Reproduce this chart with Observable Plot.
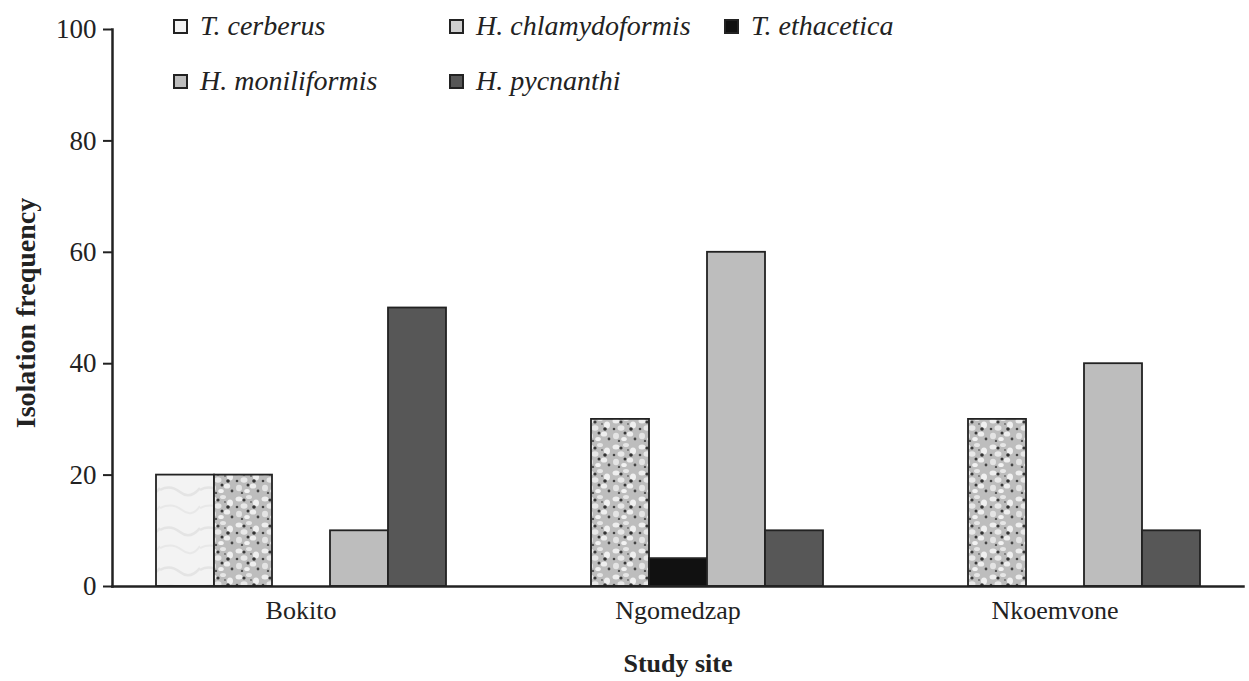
<!DOCTYPE html>
<html><head><meta charset="utf-8">
<script src="https://cdn.jsdelivr.net/npm/d3@7"></script>
<script src="https://cdn.jsdelivr.net/npm/@observablehq/plot@0.6"></script>
<style>
body{margin:0;background:#fff;font-family:"Liberation Serif","Times New Roman",serif;}
#wrap{position:relative;width:1249px;height:681px;}
#legend{position:absolute;left:0;top:0;width:1249px;height:110px;font-style:italic;font-size:28px;color:#222;pointer-events:none;}
.li{position:absolute;display:flex;align-items:center;white-space:nowrap;line-height:1;}
.sw{width:15px;height:15px;border:2.5px solid #222;margin-right:12px;box-sizing:border-box;}
</style></head>
<body><div id="wrap"><div id="legend"></div></div>
<script>
const sites = ["Bokito", "Ngomedzap", "Nkoemvone"];
const species = ["T. cerberus", "H. chlamydoformis", "T. ethacetica", "H. moniliformis", "H. pycnanthi"];
const tCerberus = [20, 0, 0];
const hChlamydoformis = [20, 30, 30];
const tEthacetica = [0, 5, 0];
const hMoniliformis = [10, 60, 40];
const hPycnanthi = [50, 10, 10];
const yTicks = [0, 20, 40, 60, 80, 100];
const fills = ["url(#marble)", "url(#speckle)", "#111111", "#bdbdbd", "#575757"];
const legendSwatch = ["#f4f4f4", "#d0d0d0", "#111111", "#bdbdbd", "#575757"];

const seriesValues = [tCerberus, hChlamydoformis, tEthacetica, hMoniliformis, hPycnanthi];
const data = [];
sites.forEach((s, i) => species.forEach((sp, j) => data.push({site: s, species: sp, value: seriesValues[j][i]})));

const plot = Plot.plot({
  width: 1249, height: 681,
  marginLeft: 112, marginRight: 6, marginTop: 29, marginBottom: 95,
  style: {fontFamily: "'Liberation Serif','Times New Roman',serif", fontSize: "27px", color: "#222", background: "#fff"},
  fx: {domain: sites, paddingInner: 0, paddingOuter: 0, label: null},
  x: {domain: species, axis: null, paddingInner: 0, paddingOuter: 0.75},
  y: {domain: [0, 100], label: null},
  color: {domain: species, range: fills},
  marks: [
    Plot.barY(data.filter(d => d.value > 0), {fx: "site", x: "species", y: "value", fill: "species", stroke: "#222", strokeWidth: 1.8, inset: 0}),
    Plot.axisY({ticks: yTicks, tickSize: 9, tickPadding: 7, tickFormat: d => d, label: null, strokeWidth: 2, fontSize: 27}),
    Plot.axisFx({anchor: "bottom", tickSize: 0, tickPadding: 14, label: null, fontSize: 26}),
    Plot.frame({facet: "super", anchor: "left", stroke: "#222", strokeWidth: 2.5}),
    Plot.frame({facet: "super", anchor: "bottom", stroke: "#222", strokeWidth: 2.5})
  ]
});

// patterns
const ns = "http://www.w3.org/2000/svg";
const defs = document.createElementNS(ns, "defs");
defs.innerHTML = `
<pattern id="speckle" width="26" height="26" patternUnits="userSpaceOnUse">
  <rect width="26" height="26" fill="#bdbdbd"/>
  <ellipse cx="5" cy="5" rx="3.5" ry="2.5" fill="#eeeeee"/><ellipse cx="15" cy="3" rx="3" ry="2" fill="#e6e6e6"/>
  <ellipse cx="22" cy="9" rx="3" ry="3.5" fill="#f0f0f0"/><ellipse cx="10" cy="12" rx="3.5" ry="2.8" fill="#e8e8e8"/>
  <ellipse cx="19" cy="18" rx="3.2" ry="2.6" fill="#eeeeee"/><ellipse cx="5" cy="20" rx="3" ry="3.2" fill="#e4e4e4"/>
  <ellipse cx="13" cy="23" rx="2.8" ry="2" fill="#f2f2f2"/>
  <circle cx="10" cy="6" r="1.6" fill="#3a3a3a"/><circle cx="20" cy="13" r="1.8" fill="#333"/>
  <circle cx="3" cy="13" r="1.3" fill="#444"/><circle cx="14" cy="17" r="1.5" fill="#383838"/>
  <circle cx="24" cy="23" r="1.4" fill="#444"/><circle cx="8" cy="25" r="1.2" fill="#555"/>
  <circle cx="17" cy="8" r="0.9" fill="#666"/>
</pattern>
<pattern id="marble" width="40" height="40" patternUnits="userSpaceOnUse">
  <rect width="40" height="40" fill="#f3f3f3"/>
  <path d="M0 10 Q10 4 20 12 T40 8" stroke="#e4e4e4" stroke-width="2.5" fill="none"/>
  <path d="M0 28 Q12 22 22 30 T40 26" stroke="#e8e8e8" stroke-width="2" fill="none"/>
</pattern>`;
plot.insertBefore(defs, plot.firstChild);

// axis titles
const yl = document.createElementNS(ns, "text");
yl.setAttribute("transform", "translate(35,313) rotate(-90)");
yl.setAttribute("text-anchor", "middle");
yl.setAttribute("font-weight", "bold");
yl.setAttribute("font-size", "28");
yl.setAttribute("fill", "#222");
yl.textContent = "Isolation frequency";
plot.appendChild(yl);
const xl = document.createElementNS(ns, "text");
xl.setAttribute("x", 678); xl.setAttribute("y", 672);
xl.setAttribute("text-anchor", "middle");
xl.setAttribute("font-weight", "bold");
xl.setAttribute("font-size", "26");
xl.setAttribute("fill", "#222");
xl.textContent = "Study site";
plot.appendChild(xl);

document.getElementById("wrap").prepend(plot);

// legend
const legPos = [[173, 27], [449, 27], [724, 27], [173, 82], [449, 82]];
const leg = document.getElementById("legend");
species.forEach((sp, i) => {
  const el = document.createElement("div");
  el.className = "li";
  el.style.left = legPos[i][0] + "px";
  el.style.top = (legPos[i][1] - 15) + "px";
  el.innerHTML = `<span class="sw" style="background:${legendSwatch[i]}"></span><span>${sp}</span>`;
  leg.appendChild(el);
});
</script></body></html>
